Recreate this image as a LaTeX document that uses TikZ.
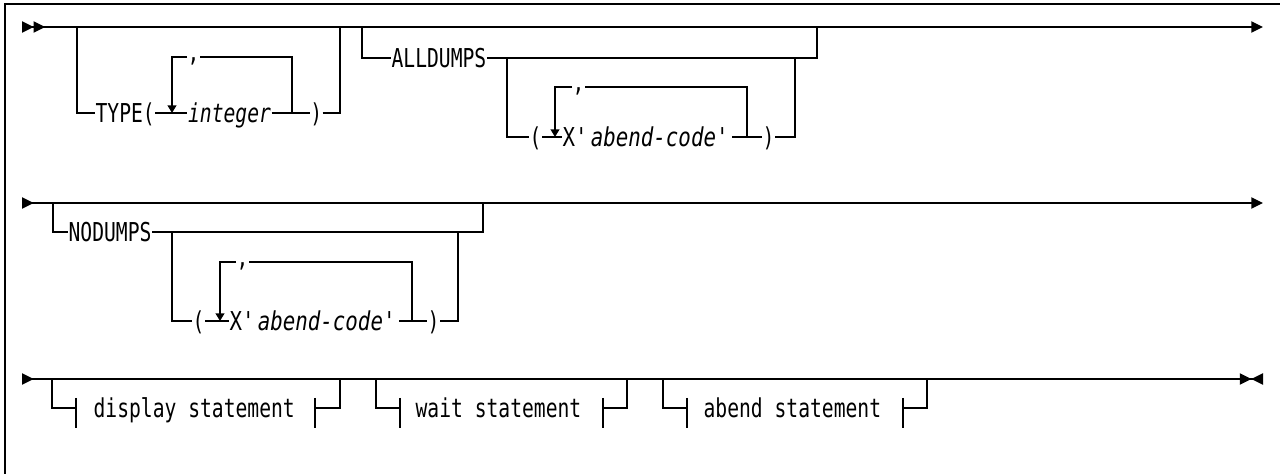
\documentclass[tikz,border=0pt]{standalone}
\usepackage{fontspec}
\newfontfamily\railfont[FakeStretch=0.756]{DejaVu Sans Mono}
\newfontfamily\railwide[FakeStretch=0.80]{DejaVu Sans Mono}
\usetikzlibrary{arrows.meta,positioning}

\begin{document}
\begin{tikzpicture}[x=0.5pt,y=-0.5pt,line width=0.65pt]
\tikzset{
  kw/.style={font=\fontsize{13}{15}\selectfont\railfont,inner sep=0pt,text height=9.6pt,text depth=0pt,anchor=west},
  var/.style={kw,font=\fontsize{13}{15}\selectfont\railfont\itshape},
  code/.style={kw,font=\fontsize{13}{15}\selectfont\railwide},
  comma/.style={kw,text height=5pt},
  twostart/.style={{Triangle[reversed,length=5.8pt,width=5.6pt,sep=0pt]Triangle[reversed,length=5.8pt,width=5.6pt]}-{Triangle[length=5.8pt,width=5.6pt]}},
  onestart/.style={{Triangle[reversed,length=5.8pt,width=5.6pt]}-{Triangle[length=5.8pt,width=5.6pt]}},
  lastline/.style={{Triangle[reversed,length=5.8pt,width=5.6pt]}-{Triangle[length=5.8pt,width=5.6pt,sep=0pt]Triangle[reversed,length=5.8pt,width=5.6pt]}},
  loopA/.style={-{Triangle[length=3.8pt,width=4.4pt]}}
}
\useasboundingbox (0,0) rectangle (1280,474);
% frame
\draw (5,490) -- (5,4) -- (1290,4);

% ---- first line: TYPE / ALLDUMPS
\coordinate (l1s) at (22,27);
\coordinate (l1e) at (1263,27);
\draw[twostart] (l1s) -- (l1e);

\node[kw] (type) at (95,113) {TYPE(};
\node[var,right=16pt of type] (intg) {integer};
\node[kw,right=19pt of intg] (tcl) {)};
\node[comma] (tcm) at (187,57) {,};
\draw (77,27) |- (type.west);
\draw (type.east) -- (intg.west);
\draw (intg.east) -- (tcl.west);
\draw (tcl.east) -| (340,27);
\draw (292,113) |- (tcm.east);
\draw[loopA] (tcm.west) -| (172,113);

\node[kw] (alld) at (391,58) {ALLDUMPS};
\draw (362,27) |- (alld.west);
\draw (alld.east) -| (817,27);
\node[kw] (aop) at (529,137) {(};
\node[code] (axc) at (562,137) {X\textquotesingle\textit{abend-code}\textquotesingle};
\node[kw] (acl) at (762,137) {)};
\node[comma] (acm) at (572,87) {,};
\draw (507,58) |- (aop.west);
\draw (aop.east) -- (axc.west);
\draw (axc.east) -- (acl.west);
\draw (acl.east) -| (795,58);
\draw (747,137) |- (acm.east);
\draw[loopA] (acm.west) -| (555,137);

% ---- second line: NODUMPS
\draw[onestart] (22,203) -- (1263,203);
\node[kw] (nod) at (68,232) {NODUMPS};
\draw (53,203) |- (nod.west);
\draw (nod.east) -| (483,203);
\node[kw] (nop) at (192,321) {(};
\node[code] (nxc) at (229,321) {X\textquotesingle\textit{abend-code}\textquotesingle};
\node[kw] (ncl) at (427,321) {)};
\node[comma] (ncm) at (236,262) {,};
\draw (172,232) |- (nop.west);
\draw (nop.east) -- (nxc.west);
\draw (nxc.east) -- (ncl.west);
\draw (ncl.east) -| (458,232);
\draw (412,321) |- (ncm.east);
\draw[loopA] (ncm.west) -| (220,321);

% ---- third line: statements
\draw[lastline] (22,379) -- (1263,379);
\node[kw] (disp) at (93,408) {display statement};
\node[kw] (wait) at (415,408) {wait statement};
\node[kw] (abnd) at (703,408) {abend statement};
\draw (52,379) |- (76,408);
\draw (76,398) -- (76,428);
\draw (315,398) -- (315,428);
\draw (315,408) -| (340,379);
\draw (376,379) |- (400,408);
\draw (400,398) -- (400,428);
\draw (603,398) -- (603,428);
\draw (603,408) -| (627,379);
\draw (663,379) |- (687,408);
\draw (687,398) -- (687,428);
\draw (903,398) -- (903,428);
\draw (903,408) -| (927,379);
\end{tikzpicture}
\end{document}
